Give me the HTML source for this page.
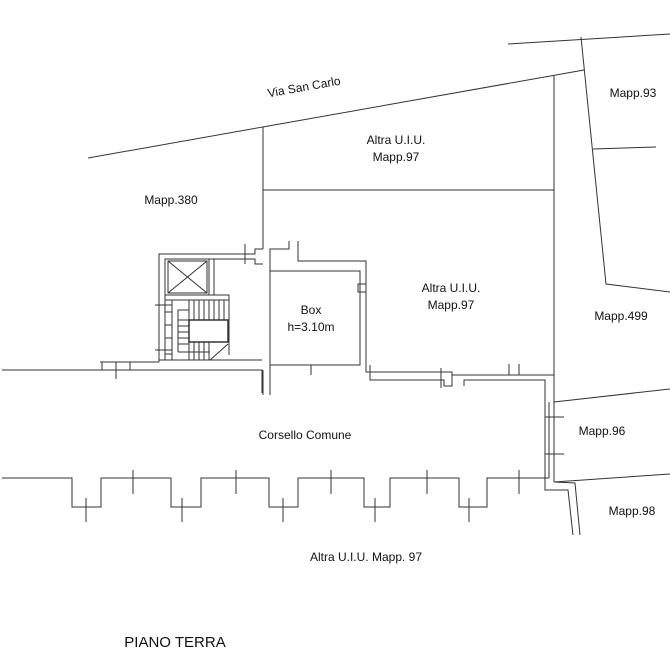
<!DOCTYPE html>
<html><head><style>
html,body{margin:0;padding:0;background:#fff;}
svg{display:block}
text{font-family:"Liberation Sans",sans-serif;font-size:12px;fill:#111;}
</style></head><body>
<svg width="670" height="653" viewBox="0 0 670 653" xmlns="http://www.w3.org/2000/svg">
<g stroke="#333" stroke-width="1" fill="none">
<!-- street / parcel lines -->
<line x1="88" y1="158" x2="584" y2="70"/>
<line x1="508" y1="44" x2="670" y2="34"/>
<polyline points="581,37 606,284 670,292"/>
<line x1="593" y1="149" x2="656" y2="147"/>
<line x1="554" y1="76" x2="554" y2="482"/>
<line x1="263" y1="190" x2="554" y2="190"/>
<line x1="263" y1="127" x2="263" y2="249"/>
<line x1="554" y1="402" x2="670" y2="389"/>
<line x1="554" y1="482" x2="670" y2="474"/>
<!-- ground line left -->
<polyline points="100,362 159,362"/>
<polyline points="2,370 262,370 262,393"/>
<line x1="102" y1="362" x2="102" y2="370"/><line x1="116" y1="362" x2="116" y2="379"/><line x1="130" y1="362" x2="130" y2="370"/>
<!-- stair block -->
<polyline points="159,362 159,254 237,254"/>
<polyline points="237,254 255,254 255,249 263,249"/>
<polyline points="165,360 165,259 255,259 255,264 263,264"/>
<line x1="159" y1="360" x2="262" y2="360"/>
<line x1="245" y1="244" x2="245" y2="264"/>
<rect x="168" y="261" width="39" height="32"/>
<line x1="168" y1="261" x2="207" y2="293"/><line x1="207" y1="261" x2="168" y2="293"/>
<line x1="209" y1="259" x2="209" y2="295"/><line x1="214" y1="259" x2="214" y2="295"/>
<polyline points="165,295 229,295 229,355"/>
<line x1="165" y1="300" x2="229" y2="300"/>
<line x1="172" y1="300" x2="172" y2="360"/>
<line x1="155" y1="305" x2="172" y2="305"/><line x1="155" y1="350" x2="172" y2="350"/>
<line x1="165" y1="312" x2="172" y2="312"/><line x1="165" y1="325" x2="172" y2="325"/><line x1="165" y1="338" x2="172" y2="338"/><line x1="165" y1="354" x2="172" y2="354"/>
<polyline points="178,352 178,310 189,310"/>
<rect x="189" y="320" width="39" height="22" stroke-width="1.5"/>
<g>
<line x1="189" y1="300" x2="189" y2="320"/><line x1="194" y1="300" x2="194" y2="320"/><line x1="199" y1="300" x2="199" y2="320"/><line x1="204" y1="300" x2="204" y2="320"/><line x1="209" y1="300" x2="209" y2="320"/><line x1="214" y1="300" x2="214" y2="320"/><line x1="219" y1="300" x2="219" y2="320"/><line x1="224" y1="300" x2="224" y2="320"/>
<line x1="178" y1="320" x2="189" y2="320"/><line x1="178" y1="326" x2="189" y2="326"/><line x1="178" y1="332" x2="189" y2="332"/><line x1="178" y1="338" x2="189" y2="338"/><line x1="178" y1="344" x2="189" y2="344"/>
<line x1="178" y1="352" x2="210" y2="352"/>
<line x1="189" y1="342" x2="189" y2="360"/><line x1="194" y1="342" x2="194" y2="360"/><line x1="199" y1="342" x2="199" y2="360"/><line x1="204" y1="342" x2="204" y2="360"/><line x1="209" y1="342" x2="209" y2="360"/>
<line x1="210" y1="360" x2="228" y2="344"/>
</g>
<!-- box room -->
<polyline points="270,395 270,249 289,249 289,241"/>
<polyline points="298,241 298,261 366,261 366,372 452,372 452,386 444,386 444,380 370,380 370,365"/>
<rect x="270" y="271" width="90" height="94"/>
<rect x="358" y="284" width="8" height="8"/>
<line x1="311" y1="365" x2="311" y2="375"/>
<line x1="263" y1="370" x2="263" y2="395"/>
<!-- corsello -->
<polyline points="452,375 554,375"/>
<polyline points="464,386 464,380 545,380 545,402"/>
<line x1="441" y1="368" x2="441" y2="388"/>
<line x1="509" y1="364" x2="509" y2="375"/><line x1="519" y1="364" x2="519" y2="375"/>
<line x1="545" y1="402" x2="545" y2="478"/><line x1="549" y1="402" x2="549" y2="478"/>
<line x1="545" y1="417" x2="564" y2="417"/><line x1="545" y1="454" x2="564" y2="454"/>
<polyline points="2,478 72,478 72,507 101,507 101,478 171,478 171,507 201,507 201,478 269,478 269,507 298,507 298,478 364,478 364,507 390,507 390,478 459,478 459,507 487,507 487,478 549,478"/>
<polyline points="545,478 545,490 568,490 573,535"/>
<polyline points="554,482 575,483 580,535"/>
<line x1="86" y1="498" x2="86" y2="522"/><line x1="133" y1="470" x2="133" y2="494"/><line x1="182" y1="498" x2="182" y2="522"/><line x1="236" y1="470" x2="236" y2="494"/><line x1="283" y1="498" x2="283" y2="522"/><line x1="331" y1="470" x2="331" y2="494"/><line x1="375" y1="498" x2="375" y2="522"/><line x1="427" y1="470" x2="427" y2="494"/><line x1="469" y1="498" x2="469" y2="522"/><line x1="519" y1="470" x2="519" y2="494"/>
</g>
<text x="304" y="91" text-anchor="middle" transform="rotate(-10 304 87)">Via San Carlo</text>
<text x="396" y="144" text-anchor="middle">Altra U.I.U.</text>
<text x="396" y="161" text-anchor="middle">Mapp.97</text>
<text x="171" y="204" text-anchor="middle">Mapp.380</text>
<text x="451" y="292" text-anchor="middle">Altra U.I.U.</text>
<text x="451" y="309" text-anchor="middle">Mapp.97</text>
<text x="311" y="314" text-anchor="middle">Box</text>
<text x="311" y="331" text-anchor="middle">h=3.10m</text>
<text x="633" y="97" text-anchor="middle">Mapp.93</text>
<text x="621" y="320" text-anchor="middle">Mapp.499</text>
<text x="305" y="439" text-anchor="middle">Corsello Comune</text>
<text x="602" y="435" text-anchor="middle">Mapp.96</text>
<text x="632" y="515" text-anchor="middle">Mapp.98</text>
<text x="366" y="561" text-anchor="middle">Altra U.I.U. Mapp. 97</text>
<text x="175" y="647" text-anchor="middle" style="font-size:15px">PIANO TERRA</text>
</svg>
</body></html>
